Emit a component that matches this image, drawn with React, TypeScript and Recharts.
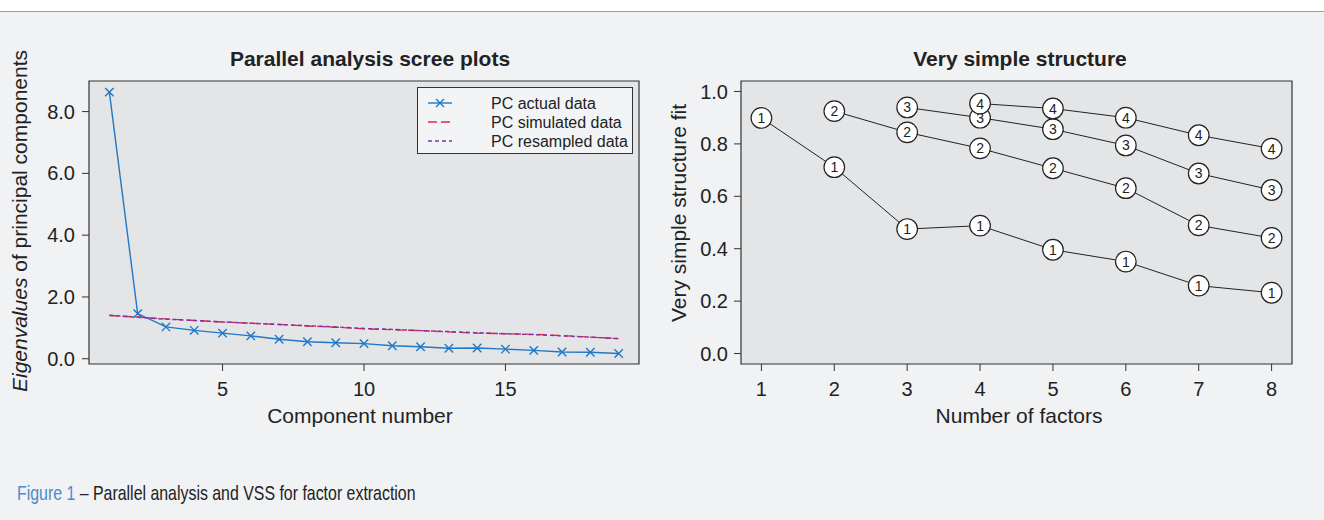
import React from 'react';
import { LineChart, Line, XAxis, YAxis, ReferenceArea } from 'recharts';

// ---------- Data: parallel analysis scree plot ----------
const componentNumbers = [1, 2, 3, 4, 5, 6, 7, 8, 9, 10, 11, 12, 13, 14, 15, 16, 17, 18, 19];
const pcActual = [8.63, 1.46, 1.03, 0.92, 0.83, 0.74, 0.63, 0.55, 0.52, 0.49, 0.42, 0.39, 0.34, 0.35, 0.31, 0.27, 0.22, 0.21, 0.17];
const pcSimulated = [1.40, 1.35, 1.29, 1.24, 1.19, 1.15, 1.11, 1.06, 1.02, 0.97, 0.94, 0.91, 0.87, 0.83, 0.81, 0.79, 0.75, 0.70, 0.65];
const pcResampled = [1.41, 1.34, 1.28, 1.24, 1.19, 1.15, 1.11, 1.07, 1.03, 0.98, 0.95, 0.91, 0.88, 0.84, 0.81, 0.78, 0.74, 0.70, 0.65];
const screeXTicks = [5, 10, 15];
const screeYTicks = [0, 2, 4, 6, 8];
const screeSeriesNames = ['PC actual data', 'PC simulated data', 'PC resampled data'];

// ---------- Data: very simple structure ----------
const factorNumbers = [1, 2, 3, 4, 5, 6, 7, 8];
const vssC1 = [0.899, 0.711, 0.475, 0.488, 0.396, 0.351, 0.259, 0.232];
const vssC2 = [null, 0.925, 0.844, 0.783, 0.707, 0.631, 0.489, 0.441];
const vssC3 = [null, null, 0.939, 0.900, 0.856, 0.794, 0.687, 0.624];
const vssC4 = [null, null, null, 0.954, 0.935, 0.900, 0.833, 0.782];
const vssXTicks = [1, 2, 3, 4, 5, 6, 7, 8];
const vssYTicks = [0, 0.2, 0.4, 0.6, 0.8, 1.0];

const screeData = componentNumbers.map((n, i) => ({
  n,
  actual: pcActual[i],
  sim: pcSimulated[i],
  res: pcResampled[i],
}));

const vssData = factorNumbers.map((k, i) => ({
  k,
  c1: vssC1[i],
  c2: vssC2[i],
  c3: vssC3[i],
  c4: vssC4[i],
}));

const FONT = '"Liberation Sans", Arial, Helvetica, sans-serif';
const BLUE = '#1f78c8';
const RED = '#e0284a';
const PURPLE = '#7a34b0';
const INK = '#222';
const AXIS = '#333';
const PLOT_BG = '#e4e5e7';
const PAGE_BG = '#f1f2f4';

const tickStyle = { fontSize: 20, fill: INK, fontFamily: FONT };

const CrossDot = (props: any) => {
  const { cx, cy, index } = props;
  if (cx == null || cy == null) return <g key={`x-${index}`} />;
  const s = 4.2;
  return (
    <path
      key={`x-${index}`}
      d={`M${cx - s},${cy - s}L${cx + s},${cy + s}M${cx - s},${cy + s}L${cx + s},${cy - s}`}
      stroke={BLUE}
      strokeWidth={1.4}
      fill="none"
    />
  );
};

const makeCircleDot = (label: string) => (props: any) => {
  const { cx, cy, index, value } = props;
  if (cx == null || cy == null || value == null || (Array.isArray(value) && value[1] == null)) {
    return <g key={`c-${label}-${index}`} />;
  }
  return (
    <g key={`c-${label}-${index}`}>
      <circle cx={cx} cy={cy} r={10.3} fill="#fff" stroke={INK} strokeWidth={1.2} />
      <text x={cx} y={cy + 5} textAnchor="middle" fontSize={14} fill={INK} fontFamily={FONT}>
        {label}
      </text>
    </g>
  );
};

// legend box drawn as an overlay (box at 417..633, 87..154)
const ScreeLegend = () => (
  <svg width={216} height={67} style={{ position: 'absolute', left: 417, top: 87 }}>
    <rect x={0.5} y={0.5} width={215} height={66} fill="#f3f4f6" stroke={AXIS} strokeWidth={1} />
    <line x1={11} x2={35} y1={16} y2={16} stroke={BLUE} strokeWidth={1.4} />
    <path d="M19,12L27,20M19,20L27,12" stroke={BLUE} strokeWidth={1.4} />
    <line x1={11} x2={35} y1={35} y2={35} stroke={RED} strokeWidth={1.4} strokeDasharray="9 4" />
    <line x1={11} x2={35} y1={54} y2={54} stroke={PURPLE} strokeWidth={1.4} strokeDasharray="4 3" />
    <text x={74} y={22} fontSize={16} fill={INK} fontFamily={FONT}>{screeSeriesNames[0]}</text>
    <text x={74} y={41} fontSize={16} fill={INK} fontFamily={FONT}>{screeSeriesNames[1]}</text>
    <text x={74} y={60} fontSize={16} fill={INK} fontFamily={FONT}>{screeSeriesNames[2]}</text>
  </svg>
);

const ScreeChart = () => (
  <LineChart
    width={660}
    height={440}
    data={screeData}
    margin={{ top: 81, right: 21, bottom: 16, left: 0 }}
    style={{ fontFamily: FONT }}
  >
    <ReferenceArea
      x1={0.28}
      x2={19.72}
      y1={-0.17}
      y2={8.99}
      fill={PLOT_BG}
      fillOpacity={1}
      stroke={AXIS}
      strokeWidth={1.2}
      ifOverflow="visible"
    />
    <XAxis
      dataKey="n"
      type="number"
      domain={[0.28, 19.72]}
      ticks={screeXTicks}
      allowDataOverflow
      axisLine={false}
      tickLine={{ stroke: AXIS }}
      tickSize={7}
      tickMargin={11}
      height={60}
      tick={tickStyle}
    />
    <YAxis
      type="number"
      domain={[-0.17, 8.99]}
      ticks={screeYTicks}
      allowDataOverflow
      axisLine={false}
      tickLine={{ stroke: AXIS }}
      tickSize={7}
      tickMargin={7}
      width={89}
      tick={tickStyle}
      tickFormatter={(v: number) => v.toFixed(1)}
    />
    <Line
      dataKey="actual"
      name={screeSeriesNames[0]}
      stroke={BLUE}
      strokeWidth={1.4}
      dot={CrossDot}
      activeDot={false}
      isAnimationActive={false}
      type="linear"
    />
    <Line
      dataKey="sim"
      name={screeSeriesNames[1]}
      stroke={RED}
      strokeWidth={1.4}
      strokeDasharray="9 4"
      dot={false}
      activeDot={false}
      isAnimationActive={false}
      type="linear"
    />
    <Line
      dataKey="res"
      name={screeSeriesNames[2]}
      stroke={PURPLE}
      strokeWidth={1.4}
      strokeDasharray="4 3"
      dot={false}
      activeDot={false}
      isAnimationActive={false}
      type="linear"
    />
    <text x={370} y={66} textAnchor="middle" fontSize={21} fontWeight="bold" fill={INK} fontFamily={FONT}>
      Parallel analysis scree plots
    </text>
    <text x={360} y={423} textAnchor="middle" fontSize={21} fill={INK} fontFamily={FONT}>
      Component number
    </text>
    <text transform="rotate(-90)" x={-221} y={27} textAnchor="middle" fontSize={21} fill={INK} fontFamily={FONT}>
      <tspan fontStyle="italic">Eigenvalues</tspan>
      <tspan> of principal components</tspan>
    </text>
  </LineChart>
);

const VssChart = () => (
  <LineChart
    width={664}
    height={440}
    data={vssData}
    margin={{ top: 81, right: 32, bottom: 16, left: 0 }}
    style={{ fontFamily: FONT }}
  >
    <ReferenceArea
      x1={0.72}
      x2={8.28}
      y1={-0.04}
      y2={1.04}
      fill={PLOT_BG}
      fillOpacity={1}
      stroke={AXIS}
      strokeWidth={1.2}
      ifOverflow="visible"
    />
    <XAxis
      dataKey="k"
      type="number"
      domain={[0.72, 8.28]}
      ticks={vssXTicks}
      allowDataOverflow
      axisLine={false}
      tickLine={{ stroke: AXIS }}
      tickSize={7}
      tickMargin={11}
      height={60}
      tick={tickStyle}
    />
    <YAxis
      type="number"
      domain={[-0.04, 1.04]}
      ticks={vssYTicks}
      allowDataOverflow
      axisLine={false}
      tickLine={{ stroke: AXIS }}
      tickSize={7}
      tickMargin={6}
      width={81}
      tick={tickStyle}
      tickFormatter={(v: number) => v.toFixed(1)}
    />
    <Line dataKey="c1" stroke={INK} strokeWidth={1} dot={makeCircleDot('1')} activeDot={false} isAnimationActive={false} type="linear" />
    <Line dataKey="c2" stroke={INK} strokeWidth={1} dot={makeCircleDot('2')} activeDot={false} isAnimationActive={false} type="linear" />
    <Line dataKey="c3" stroke={INK} strokeWidth={1} dot={makeCircleDot('3')} activeDot={false} isAnimationActive={false} type="linear" />
    <Line dataKey="c4" stroke={INK} strokeWidth={1} dot={makeCircleDot('4')} activeDot={false} isAnimationActive={false} type="linear" />
    <text x={360} y={66} textAnchor="middle" fontSize={21} fontWeight="bold" fill={INK} fontFamily={FONT}>
      Very simple structure
    </text>
    <text x={359} y={423} textAnchor="middle" fontSize={21} fill={INK} fontFamily={FONT}>
      Number of factors
    </text>
    <text transform="rotate(-90)" x={-213} y={26} textAnchor="middle" fontSize={21} fill={INK} fontFamily={FONT}>
      Very simple structure fit
    </text>
  </LineChart>
);

export default function App() {
  return (
    <div
      style={{
        position: 'absolute',
        left: 0,
        top: 0,
        width: 1324,
        height: 520,
        background: PAGE_BG,
        overflow: 'hidden',
        fontFamily: FONT,
      }}
    >
      <div style={{ position: 'absolute', left: 0, top: 0, width: 1324, height: 11, background: '#fff', borderBottom: '1px solid #9c9c9c' }} />
      <div style={{ position: 'absolute', left: 0, top: 0 }}>
        <ScreeChart />
        <ScreeLegend />
      </div>
      <div style={{ position: 'absolute', left: 660, top: 0 }}>
        <VssChart />
      </div>
      <div
        style={{
          position: 'absolute',
          left: 17,
          top: 482,
          fontSize: 21,
          lineHeight: '21px',
          whiteSpace: 'nowrap',
          fontFamily: FONT,
          color: INK,
          transform: 'scaleX(0.757)',
          transformOrigin: 'left top',
        }}
      >
        <span style={{ color: '#4a8ad0' }}>Figure 1</span> – Parallel analysis and VSS for factor extraction
      </div>
    </div>
  );
}
